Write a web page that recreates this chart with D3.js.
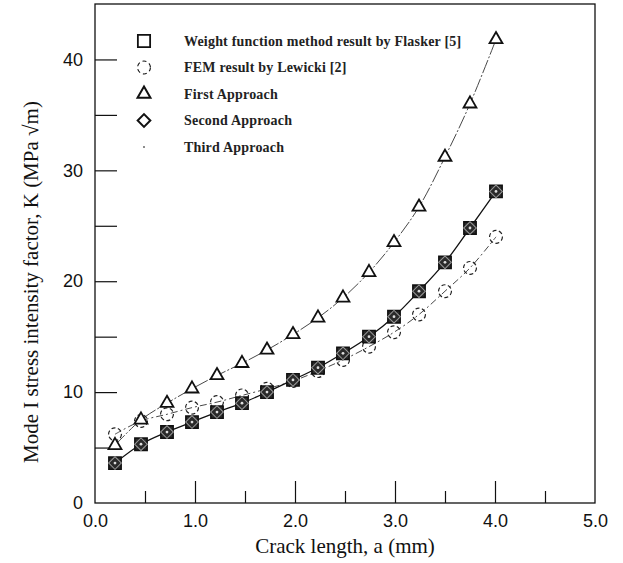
<!DOCTYPE html>
<html>
<head>
<meta charset="utf-8">
<script src="https://cdn.jsdelivr.net/npm/d3@7"></script>
<style>
  body { margin: 0; background: #fff; }
  svg { display: block; }
</style>
</head>
<body>
<div id="chart"></div>
<script>
  "use strict";

  // crack length a (mm) for every series
  var crackLength = [0.2, 0.46, 0.72, 0.97, 1.22, 1.47, 1.72, 1.98, 2.23, 2.48, 2.74, 2.99, 3.24, 3.5, 3.75, 4.01];

  // K values (MPa sqrt(m))
  var flasker = [3.6, 5.3, 6.4, 7.3, 8.2, 9.0, 10.0, 11.1, 12.2, 13.5, 15.0, 16.8, 19.1, 21.7, 24.8, 28.1];
  var lewicki = [6.2, 7.4, 8.0, 8.6, 9.1, 9.7, 10.3, 11.0, 11.9, 12.9, 14.1, 15.4, 17.0, 19.1, 21.2, 24.0];
  var firstApproach = [5.2, 7.5, 9.0, 10.3, 11.5, 12.6, 13.8, 15.2, 16.7, 18.5, 20.8, 23.5, 26.7, 31.2, 36.0, 41.8];
  var secondApproach = [3.6, 5.3, 6.4, 7.3, 8.2, 9.0, 10.0, 11.1, 12.2, 13.5, 15.0, 16.8, 19.1, 21.7, 24.8, 28.1];
  var thirdApproach = [3.6, 5.3, 6.4, 7.3, 8.2, 9.0, 10.0, 11.1, 12.2, 13.5, 15.0, 16.8, 19.1, 21.7, 24.8, 28.1];

  var xTicks = [0, 1, 2, 3, 4, 5];
  var xMinorTicks = [0.5, 1.5, 2.5, 3.5, 4.5];
  var yTicks = [0, 10, 20, 30, 40];
  var yMinorTicks = [5, 15, 25, 35];

  var legendLabels = [
    "Weight function method result by Flasker [5]",
    "FEM result by Lewicki [2]",
    "First Approach",
    "Second Approach",
    "Third Approach"
  ];

  var width = 623, height = 563;
  var margin = { left: 95, right: 28, top: 4, bottom: 60 };

  var svg = d3.select("#chart").append("svg")
      .attr("width", width)
      .attr("height", height);

  var x = d3.scaleLinear().domain([0, 5]).range([margin.left, width - margin.right]);
  var y = d3.scaleLinear().domain([0, 45]).range([height - margin.bottom, margin.top]);

  var ink = "#111";

  // frame
  svg.append("rect")
      .attr("x", x(0))
      .attr("y", y(45))
      .attr("width", x(5) - x(0))
      .attr("height", y(0) - y(45))
      .attr("fill", "none")
      .attr("stroke", ink)
      .attr("stroke-width", 1.3);

  // x axis, ticks pointing inward
  var xAxis = svg.append("g")
      .attr("transform", "translate(0," + y(0) + ")")
      .call(d3.axisBottom(x).tickValues(xTicks).tickSize(-22)
        .tickFormat(function (d) { return d3.format(".1f")(d); }));
  xAxis.select(".domain").remove();
  xAxis.selectAll(".tick line").attr("stroke", ink).attr("stroke-width", 1.2);
  xAxis.selectAll(".tick text")
      .attr("y", 11)
      .attr("font-family", "Liberation Sans, Arial, sans-serif")
      .attr("font-size", 18)
      .attr("fill", ink);
  // 0.0 and 5.0 ticks are the frame itself
  xAxis.selectAll(".tick").filter(function (d) { return d === 0 || d === 5; })
      .select("line").remove();

  var xMinor = svg.append("g")
      .attr("transform", "translate(0," + y(0) + ")")
      .call(d3.axisBottom(x).tickValues(xMinorTicks).tickSize(-12).tickFormat(""));
  xMinor.select(".domain").remove();
  xMinor.selectAll(".tick line").attr("stroke", ink).attr("stroke-width", 1.2);

  // y axis
  var yAxis = svg.append("g")
      .attr("transform", "translate(" + x(0) + ",0)")
      .call(d3.axisLeft(y).tickValues(yTicks).tickSize(-22));
  yAxis.select(".domain").remove();
  yAxis.selectAll(".tick line").attr("stroke", ink).attr("stroke-width", 1.2);
  yAxis.selectAll(".tick text")
      .attr("x", -12)
      .attr("font-family", "Liberation Sans, Arial, sans-serif")
      .attr("font-size", 18)
      .attr("fill", ink);
  yAxis.selectAll(".tick").filter(function (d) { return d === 0; })
      .select("line").remove();

  var yMinor = svg.append("g")
      .attr("transform", "translate(" + x(0) + ",0)")
      .call(d3.axisLeft(y).tickValues(yMinorTicks).tickSize(-22).tickFormat(""));
  yMinor.select(".domain").remove();
  yMinor.selectAll(".tick line").attr("stroke", ink).attr("stroke-width", 1.2);

  // axis titles
  svg.append("text")
      .attr("x", x(2.5))
      .attr("y", 553)
      .attr("text-anchor", "middle")
      .attr("font-family", "Liberation Serif, Times New Roman, serif")
      .attr("font-size", 21)
      .attr("fill", ink)
      .text("Crack length, a (mm)");

  svg.append("text")
      .attr("transform", "translate(38," + 282 + ") rotate(-90)")
      .attr("text-anchor", "middle")
      .attr("font-family", "Liberation Serif, Times New Roman, serif")
      .attr("font-size", 21)
      .attr("fill", ink)
      .text("Mode I stress intensity factor, K (MPa \u221Am)");

  // curves
  function pts(values) {
    return crackLength.map(function (a, i) { return [a, values[i]]; });
  }

  var line = d3.line()
      .x(function (d) { return x(d[0]); })
      .y(function (d) { return y(d[1]); })
      .curve(d3.curveCatmullRom.alpha(0.5));

  svg.append("path")
      .attr("d", line(pts(firstApproach)))
      .attr("fill", "none")
      .attr("stroke", "#333")
      .attr("stroke-width", 0.9)
      .attr("stroke-dasharray", "14,2,2,2");

  svg.append("path")
      .attr("d", line(pts(lewicki)))
      .attr("fill", "none")
      .attr("stroke", "#333")
      .attr("stroke-width", 0.9)
      .attr("stroke-dasharray", "7,3,2,3");

  svg.append("path")
      .attr("d", line(pts(secondApproach)))
      .attr("fill", "none")
      .attr("stroke", ink)
      .attr("stroke-width", 1.3);

  // markers
  var sym = {
    square: d3.symbol().type(d3.symbolSquare).size(150),
    circle: d3.symbol().type(d3.symbolCircle).size(130),
    triangle: d3.symbol().type(d3.symbolTriangle).size(72),
    diamond: d3.symbol().type(d3.symbolSquare).size(80)
  };

  function drawMarks(values, path, opts) {
    svg.append("g").selectAll("path")
        .data(pts(values))
        .join("path")
        .attr("transform", function (d) {
          return "translate(" + x(d[0]) + "," + y(d[1]) + ")" + (opts.rotate ? " rotate(45)" : "");
        })
        .attr("d", path)
        .attr("fill", opts.fill)
        .attr("stroke", opts.stroke)
        .attr("stroke-width", opts.width)
        .attr("stroke-dasharray", opts.dash || null);
  }

  drawMarks(lewicki, sym.circle, { fill: "none", stroke: "#222", width: 1.2, dash: "4,2.5" });
  drawMarks(firstApproach, sym.triangle, { fill: "#fff", stroke: ink, width: 1.8 });
  drawMarks(flasker, sym.square, { fill: "#2a2a2a", stroke: ink, width: 1.6 });
  drawMarks(secondApproach, sym.diamond, { fill: "none", stroke: "#999", width: 1, rotate: true });
  drawMarks(thirdApproach, d3.symbol().type(d3.symbolCircle).size(6), { fill: "#ddd", stroke: "none", width: 0 });

  // legend
  var legendY = d3.scalePoint().domain(legendLabels).range([41, 147]);
  var legendMarks = [
    { path: sym.square, fill: "#fff", width: 1.8, rotate: false, dash: null },
    { path: sym.circle, fill: "none", width: 1.1, rotate: false, dash: "4,3" },
    { path: sym.triangle, fill: "#fff", width: 2, rotate: false, dash: null },
    { path: sym.diamond, fill: "#fff", width: 2, rotate: true, dash: null },
    { path: d3.symbol().type(d3.symbolCircle).size(3), fill: "#666", width: 0, rotate: false, dash: null }
  ];

  var legend = svg.append("g");
  legendLabels.forEach(function (label, i) {
    var m = legendMarks[i];
    legend.append("path")
        .attr("transform", "translate(144," + legendY(label) + ")" + (m.rotate ? " rotate(45)" : ""))
        .attr("d", m.path)
        .attr("fill", m.fill)
        .attr("stroke", m.width ? ink : "none")
        .attr("stroke-width", m.width)
        .attr("stroke-dasharray", m.dash);
    legend.append("text")
        .attr("x", 184)
        .attr("y", legendY(label))
        .attr("dy", "0.35em")
        .attr("font-family", "Liberation Serif, Times New Roman, serif")
        .attr("font-weight", "bold")
        .attr("font-size", 14)
        .attr("letter-spacing", 0.2)
        .attr("fill", "#222")
        .text(label);
  });
</script>
</body>
</html>
